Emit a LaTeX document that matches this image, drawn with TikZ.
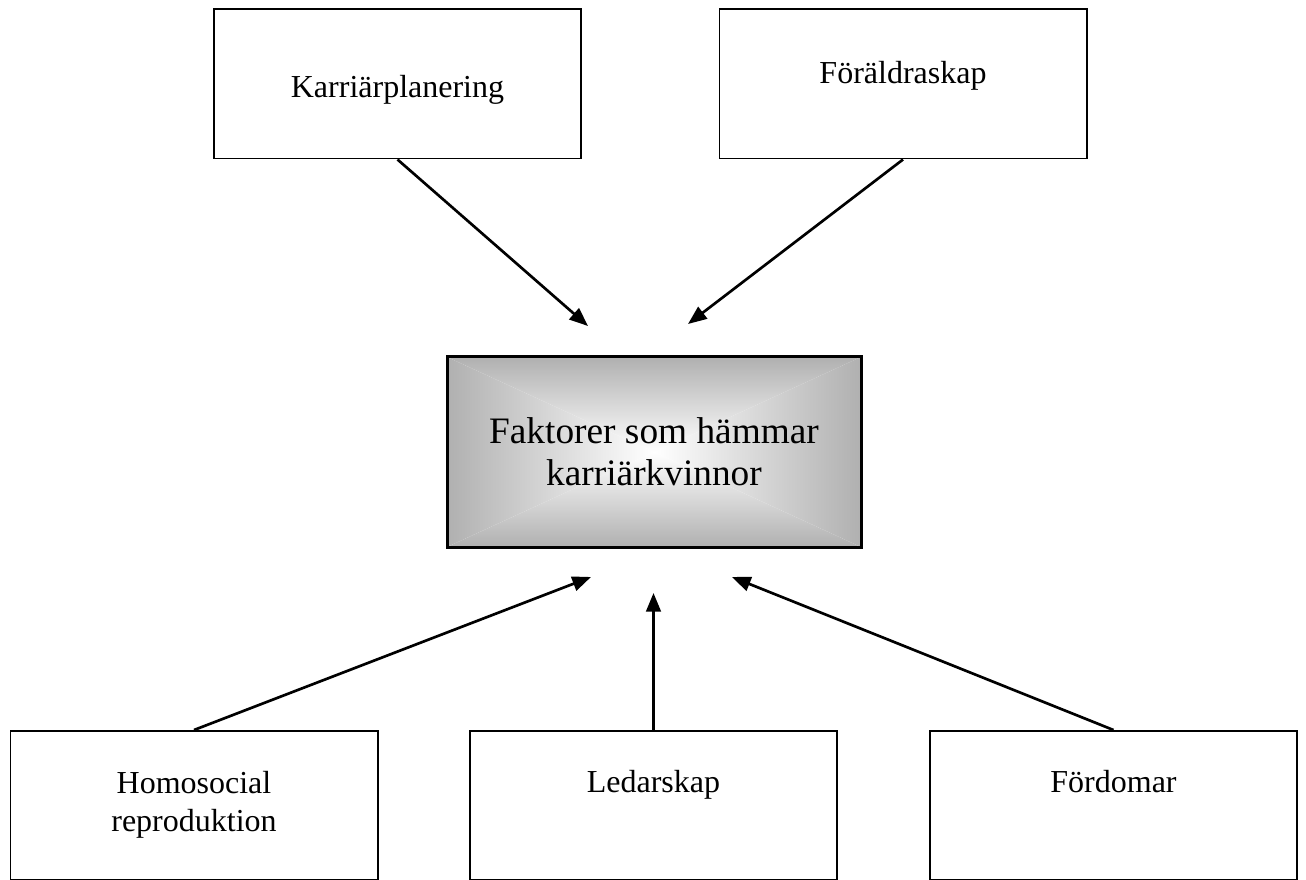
\documentclass[tikz,border=0pt]{standalone}
\usepackage{fontspec}
\setmainfont{Liberation Serif}
\usetikzlibrary{arrows.meta}

\tikzset{every picture/.style={line width=0.75pt}}
\tikzset{
  smallbox/.style={draw, line width=1.25pt, inner sep=0pt, minimum width=275.5pt, minimum height=112pt,
    align=center, font=\fontsize{24}{29}\selectfont},
  mainbox/.style={draw, line width=2.25pt, inner sep=0pt, minimum width=310.5pt, minimum height=142.5pt,
    align=center, font=\fontsize{28}{31.5}\selectfont,
    path picture={
      \coordinate (nw) at (path picture bounding box.north west);
      \coordinate (ne) at (path picture bounding box.north east);
      \coordinate (sw) at (path picture bounding box.south west);
      \coordinate (se) at (path picture bounding box.south east);
      \coordinate (mid) at (path picture bounding box.center);
      \shade[top color=edgegray, bottom color=white] (nw) -- (ne) -- (mid) -- cycle;
      \shade[bottom color=edgegray, top color=white] (sw) -- (se) -- (mid) -- cycle;
      \shade[left color=edgegray, right color=white] (nw) -- (sw) -- (mid) -- cycle;
      \shade[right color=edgegray, left color=white] (ne) -- (se) -- (mid) -- cycle;
    }},
  pil/.style={line width=2pt, -{Triangle[length=14pt,width=11pt]}}
}
\definecolor{edgegray}{RGB}{176,176,176}

\begin{document}
\begin{tikzpicture}[x=0.75pt,y=0.75pt,yscale=-1,xscale=1]
%set diagram left start at 0, and has height of 880
\useasboundingbox (0,0) rectangle (1306,880);

%Shape: Rectangle [id:karriar]
\node [smallbox, text height=66pt, text depth=46pt] (karriar) at (397.5,84) {Karriärplanering};
%Shape: Rectangle [id:foraldra]
\node [smallbox, text height=55.5pt, text depth=56.5pt] (foraldra) at (903,84) {Föräldraskap};

%Shape: Rectangle [id:faktorer]
\node [mainbox] (faktorer) at (654,452) {Faktorer som hämmar\\karriärkvinnor};

%Shape: Rectangle [id:homosocial]
\node [smallbox, text height=75.75pt, text depth=36.25pt] (homosocial) at (194,805.5) {Homosocial\\reproduktion};
%Shape: Rectangle [id:ledarskap]
\node [smallbox, text height=46.5pt, text depth=65.5pt] (ledarskap) at (653.5,805.5) {Ledarskap};
%Shape: Rectangle [id:fordomar]
\node [smallbox, text height=46.5pt, text depth=65.5pt] (fordomar) at (1113.5,805.5) {Fördomar};

%arrow tips
\coordinate (tipkarriar) at (588,326);
\coordinate (tipforaldra) at (688,324);
\coordinate (tiphomosocial) at (591,577);
\coordinate (tipledarskap) at (653.5,593);
\coordinate (tipfordomar) at (732,577);

%Straight Lines
\draw [pil] (karriar.south) -- (tipkarriar);
\draw [pil] (foraldra.south) -- (tipforaldra);
\draw [pil] (homosocial.north) -- (tiphomosocial);
\draw [pil] (ledarskap.north) -- (tipledarskap);
\draw [pil] (fordomar.north) -- (tipfordomar);
\end{tikzpicture}
\end{document}
